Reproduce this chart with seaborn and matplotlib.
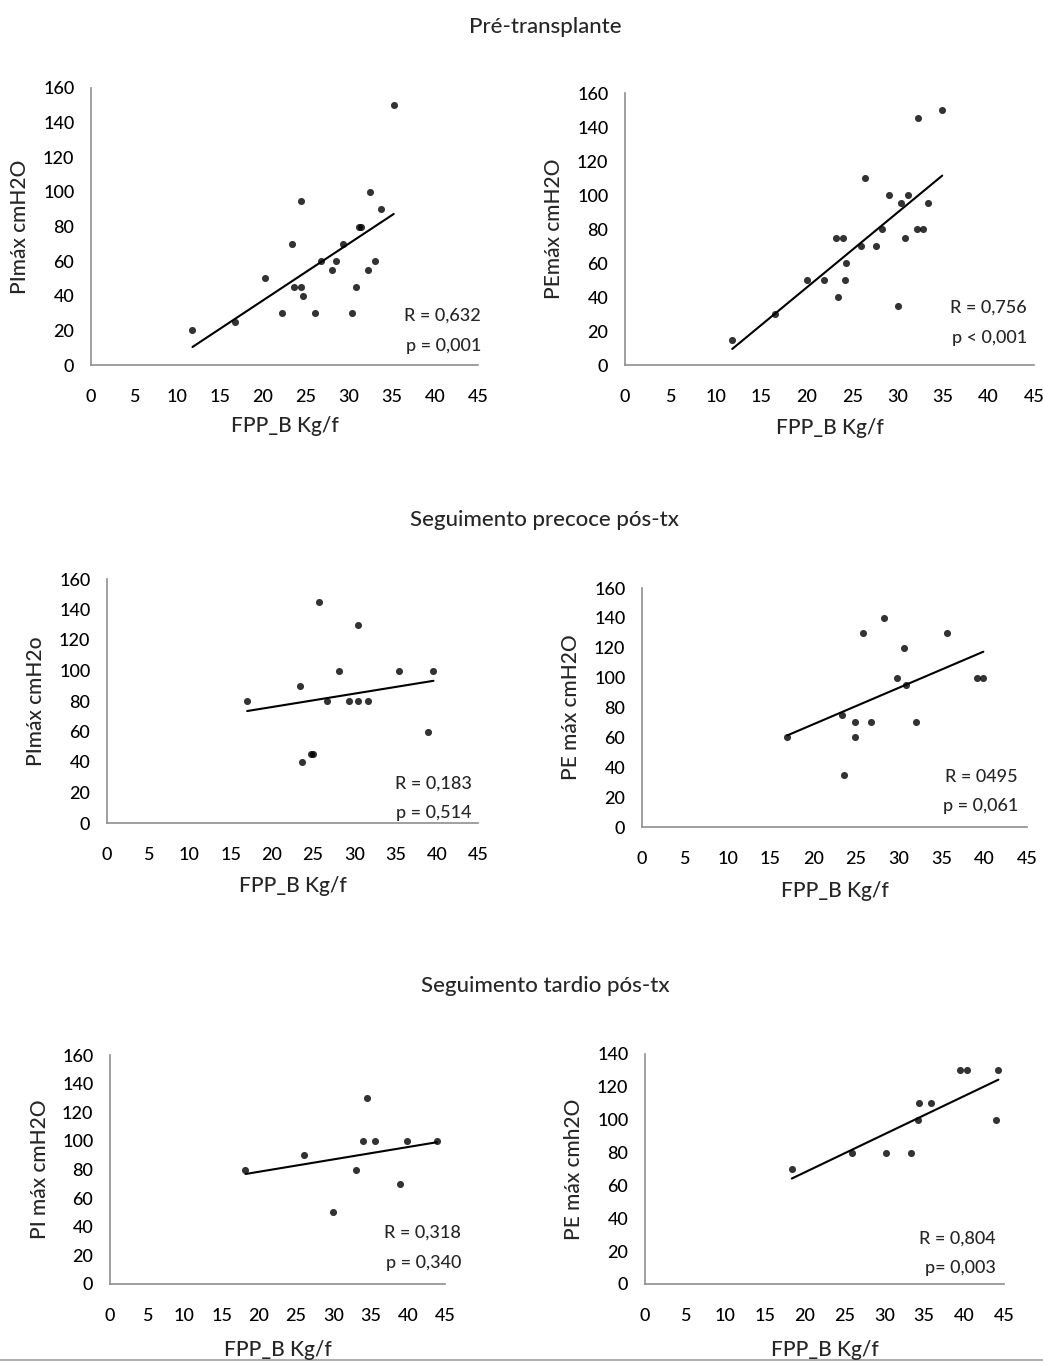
import numpy as np
import pandas as pd
import matplotlib
matplotlib.use("Agg")
import matplotlib.pyplot as plt
import seaborn as sns
from matplotlib.lines import Line2D

sns.set_style("white")
plt.rcParams['font.family'] = ['Lato', 'DejaVu Sans']

# ---------------- data ----------------
section_titles = ["Pré-transplante", "Seguimento precoce pós-tx", "Seguimento tardio pós-tx"]
x_label = "FPP_B Kg/f"

# Pré-transplante, PImáx
p1_x = [11.8, 16.8, 20.2, 22.2, 23.4, 23.6, 24.4, 24.4, 24.6, 26.1, 26.8, 28.0, 28.5,
        29.3, 30.3, 30.8, 31.2, 31.4, 32.2, 32.4, 33.0, 33.7, 35.2]
p1_y = [20, 25, 50, 30, 70, 45, 45, 95, 40, 30, 60, 55, 60,
        70, 30, 45, 80, 80, 55, 100, 60, 90, 150]
# Pré-transplante, PEmáx
p2_x = [11.8, 16.5, 20.0, 21.9, 23.2, 24.0, 23.4, 24.2, 24.3, 26.0, 26.4, 27.6, 28.3,
        29.0, 30.0, 30.4, 30.8, 31.1, 32.2, 32.1, 32.8, 33.3, 34.9]
p2_y = [15, 30, 50, 50, 75, 75, 40, 50, 60, 70, 110, 70, 80,
        100, 35, 95, 75, 100, 145, 80, 80, 95, 150]
# Seguimento precoce, PImáx
p3_x = [17.0, 23.4, 23.6, 24.7, 25.0, 25.7, 26.7, 28.2, 29.4, 30.5, 30.5, 31.7, 35.4, 38.9, 39.6]
p3_y = [80, 90, 40, 45, 45, 145, 80, 100, 80, 130, 80, 80, 100, 60, 100]
# Seguimento precoce, PEmáx
p4_x = [17.0, 23.4, 23.6, 24.9, 24.9, 25.8, 26.8, 28.3, 29.8, 30.6, 30.8, 32.0, 35.7, 39.2, 39.9]
p4_y = [60, 75, 35, 70, 60, 130, 70, 140, 100, 120, 95, 70, 130, 100, 100]
# Seguimento tardio, PImáx
p5_x = [18.2, 26.0, 30.0, 33.1, 34.0, 34.5, 35.6, 39.0, 39.9, 43.9]
p5_y = [80, 90, 50, 80, 100, 130, 100, 70, 100, 100]
# Seguimento tardio, PEmáx
p6_x = [18.4, 26.0, 30.2, 33.4, 34.2, 34.4, 35.8, 39.5, 40.3, 44.0, 44.3]
p6_y = [70, 80, 80, 80, 100, 110, 110, 130, 130, 100, 130]

y_labels = ["PImáx cmH2O", "PEmáx cmH2O", "PImáx cmH2o", "PE máx cmH2O", "PI máx cmH2O", "PE máx cmh2O"]
stats = [("R = 0,632", "p = 0,001"), ("R = 0,756", "p < 0,001"),
         ("R = 0,183", "p = 0,514"), ("R = 0495", "p = 0,061"),
         ("R = 0,318", "p = 0,340"), ("R = 0,804", "p= 0,003")]
y_max = [160, 160, 160, 160, 160, 140]

# ---------------- layout (pixels) ----------------
W, H = 1043, 1363
fig = plt.figure(figsize=(W / 100, H / 100), dpi=100)

# left, right(x=45), top(y=max), bottom(y=0)
boxes = [(91, 478, 88, 365), (625, 1034, 93, 365),
         (107, 478, 579, 823), (642, 1027, 588, 827),
         (110, 445, 1055, 1284), (645, 1004, 1054, 1284)]
ylabel_x = [20, 554, 36, 571, 40, 574]
xlabel_y = [426, 428, 886, 891, 1350, 1350]
stat_pos = [(481, 316, 346), (1027, 308, 338), (472, 784, 813),
            (1018, 777, 806), (461, 1233, 1263), (996, 1239, 1268)]
title_pos = [(545, 27), (544, 520), (545, 986)]

datasets = [(p1_x, p1_y), (p2_x, p2_y), (p3_x, p3_y), (p4_x, p4_y), (p5_x, p5_y), (p6_x, p6_y)]
FS = 13
LFS = 15
TFS = 16
spine_col = '#8f8f8f'
W8 = 500

for i, ((xs, ys), (l, r, t, b)) in enumerate(zip(datasets, boxes)):
    ax = fig.add_axes([l / W, 1 - b / H, (r - l) / W, (b - t) / H])
    df = pd.DataFrame({"x": xs, "y": ys})
    sns.regplot(data=df, x="x", y="y", ax=ax, ci=None,
                scatter_kws=dict(s=26, color='black', linewidths=0),
                line_kws=dict(color='black', lw=1.5))
    ax.set_xlim(0, 45)
    ax.set_ylim(0, y_max[i])
    ax.set_xticks(np.arange(0, 46, 5))
    ax.set_yticks(np.arange(0, y_max[i] + 1, 20))
    ax.tick_params(axis='x', length=0, pad=17, labelsize=FS, colors='black')
    ax.tick_params(axis='y', length=0, pad=12, labelsize=FS, colors='black')
    for lab in ax.get_xticklabels() + ax.get_yticklabels():
        lab.set_fontweight(W8)
    for s in ['top', 'right']:
        ax.spines[s].set_visible(False)
    for s in ['left', 'bottom']:
        ax.spines[s].set_color(spine_col)
        ax.spines[s].set_linewidth(1.2)
    ax.set_xlabel("")
    ax.set_ylabel("")
    ax.patch.set_alpha(0)
    # axis labels
    fig.text(((l + r) / 2) / W, 1 - xlabel_y[i] / H, x_label, ha='center', va='center',
             fontsize=LFS, fontweight=W8)
    fig.text(ylabel_x[i] / W, 1 - ((t + b) / 2) / H, y_labels[i], ha='center', va='center',
             rotation=90, fontsize=LFS, fontweight=W8)
    sx, sy1, sy2 = stat_pos[i]
    fig.text(sx / W, 1 - sy1 / H, stats[i][0], ha='right', va='center', fontsize=FS, fontweight=W8)
    fig.text(sx / W, 1 - sy2 / H, stats[i][1], ha='right', va='center', fontsize=FS, fontweight=W8)

for txt, (tx, ty) in zip(section_titles, title_pos):
    fig.text(tx / W, 1 - ty / H, txt, ha='center', va='center', fontsize=TFS, fontweight=W8)

fig.add_artist(Line2D([0, 1], [1 - 1360 / H, 1 - 1360 / H], color='#b0b0b0', lw=1.5,
                      transform=fig.transFigure))

fig.savefig("out.png", dpi=100, facecolor='white')
